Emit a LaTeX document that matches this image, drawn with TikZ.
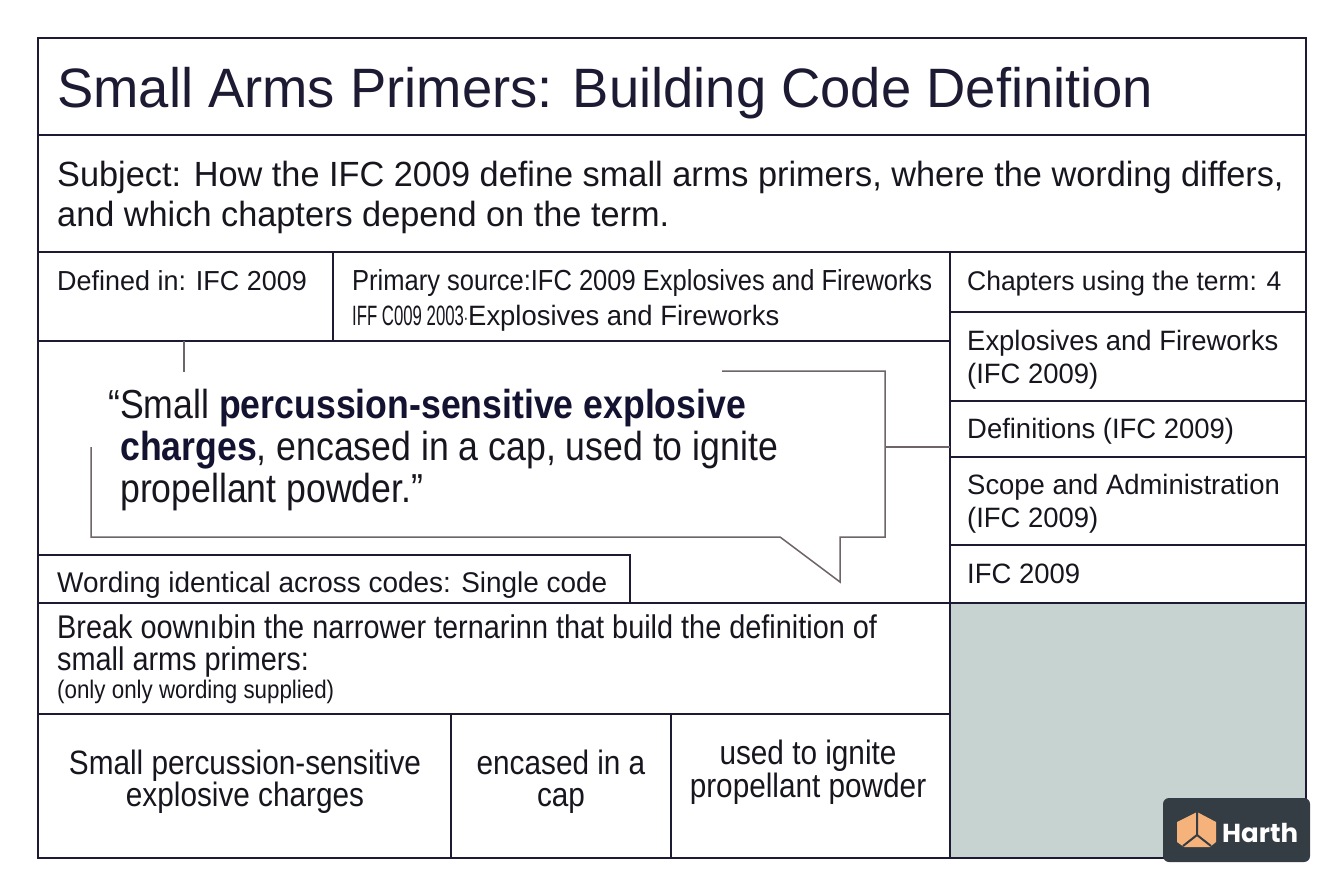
\documentclass[tikz,border=0pt]{standalone}
\usepackage{fontspec}
\setmainfont{Liberation Sans}[FakeStretch=0.98]
\newfontfamily\narrowfont{Liberation Sans}[FakeStretch=0.88]
\newfontfamily\badgefont{Poppins}
\usetikzlibrary{positioning}
\definecolor{ink}{HTML}{1C1B33}
\definecolor{textink}{HTML}{17161F}
\definecolor{boldink}{HTML}{131230}
\definecolor{bubblegray}{HTML}{6E6569}
\definecolor{sage}{HTML}{C6D3D0}
\definecolor{badge}{HTML}{343D43}
\definecolor{cube}{HTML}{F6B27B}

\begin{document}
\begin{tikzpicture}[x=1pt,y=-1pt,
  cell/.style={draw=ink, line width=1.6pt},
  bubble/.style={draw=bubblegray, line width=1.5pt},
  txt/.style={anchor=base west, inner sep=0pt, text=textink, align=left},
  ctxt/.style={anchor=base, inner sep=0pt, text=textink, align=center},
  ]
\useasboundingbox[fill=white] (0,0) rectangle (1344,896);

% grey corner
\fill[sage] (950,603) rectangle (1306,858);

% table lines
\draw[cell] (38,135) -- (1306,135);
\draw[cell] (38,252) -- (1306,252);
\draw[cell] (38,341) -- (950,341);
\draw[cell] (333,252) -- (333,341);
\draw[cell] (950,252) -- (950,858);
\foreach \y in {312,401,457,545,603}
  \draw[cell] (950,\y) -- (1306,\y);
\draw[cell] (38,555) -- (630,555) -- (630,603);
\draw[cell] (38,603) -- (950,603);
\draw[cell] (38,714) -- (950,714);
\draw[cell] (451,714) -- (451,858);
\draw[cell] (671,714) -- (671,858);
\draw[cell, line width=2pt] (38,38) rectangle (1306,858);

% speech bubble
\coordinate (tick top) at (184,341);
\coordinate (tick end) at (184,372);
\coordinate (bubble east) at (885,447);
\coordinate (chapters west) at (950,447);
\draw[bubble] (tick top) -- (tick end);
\draw[bubble] (722,371) -- (885,371) -- (885,537) -- (840,537) -- (840,582)
  -- (780,537) -- (91,537) -- (91,447);
\draw[bubble] (bubble east) -- (chapters west);

% texts (base of a multi-line node = its last line)
\node[txt, text=ink, font=\fontsize{55.5}{60}\selectfont] (title) at (57,108)
  {Small Arms Primers: Building Code Definition};
\node[txt, font=\fontsize{35}{40}\selectfont] (subject) at (57,227)
  {Subject: How the IFC 2009 define small arms primers, where the wording differs,\\
   and which chapters depend on the term.};
\node[txt, font=\fontsize{27.5}{35}\selectfont] (defined) at (57,290) {Defined in: IFC 2009};
\node[txt, font=\fontsize{28}{35}\selectfont] (primary) at (352,325)
  {{\narrowfont\fontsize{29}{35}\selectfont Primary source:IFC 2009 Explosives and Fireworks}\\
   \resizebox{116pt}{\height}{IFF C009 2003$\cdot$}Explosives and Fireworks};

\node[txt, font=\fontsize{27}{33}\selectfont] (chapters) at (967,290) {Chapters using the term: 4};
\node[txt, font=\fontsize{28}{33}\selectfont] (ch explosives) at (967,383)
  {Explosives and Fireworks\\(IFC 2009)};
\node[txt, font=\fontsize{28}{33}\selectfont] (ch definitions) at (967,438) {Definitions (IFC 2009)};
\node[txt, font=\fontsize{28}{33}\selectfont] (ch scope) at (967,527)
  {Scope and Administration\\(IFC 2009)};
\node[txt, font=\fontsize{28}{33}\selectfont] (ch ifc) at (967,583) {IFC 2009};

\node[txt, font=\narrowfont\fontsize{40.5}{42}\selectfont] (quote) at (120,502)
  {\llap{“}Small \textcolor{boldink}{\bfseries percussion-sensitive explosive}\\
   \textcolor{boldink}{\bfseries charges}, encased in a cap, used to ignite\\
   propellant powder.”};

\node[txt, font=\fontsize{28.5}{33}\selectfont] (wording) at (57,592)
  {Wording identical across codes: Single code};
\node[txt, font=\narrowfont\fontsize{32.8}{31.5}\selectfont] (breakdown) at (57,670)
  {Break oownıbin the narrower ternarinn that build the definition of\\
   small arms primers:};
\node[txt, font=\narrowfont\fontsize{25.4}{26}\selectfont] (supplied) at (57,698)
  {(only only wording supplied)};

\node[ctxt, font=\narrowfont\fontsize{33.8}{32}\selectfont] (part charges) at (245,806)
  {Small percussion-sensitive\\explosive charges};
\node[ctxt, font=\narrowfont\fontsize{33.8}{32}\selectfont] (part cap) at (561,806)
  {encased in a\\cap};
\node[ctxt, font=\narrowfont\fontsize{33.8}{33}\selectfont] (part ignite) at (808,797)
  {used to ignite\\propellant powder};

% badge
\fill[badge, rounded corners=6pt] (1163,798) rectangle (1310,862);
\fill[cube] (1197,812) -- (1216,822) -- (1216,842) -- (1210,847) -- (1184,847)
  -- (1177,842) -- (1177,822) -- cycle;
\draw[badge, line width=2pt] (1197,812) -- (1197,835) -- (1183,846);
\draw[badge, line width=2pt] (1197,835) -- (1211,846);
\node[txt, text=white, font=\badgefont\bfseries\fontsize{26}{30}\selectfont] (harth) at (1222,842) {Harth};
\end{tikzpicture}
\end{document}
